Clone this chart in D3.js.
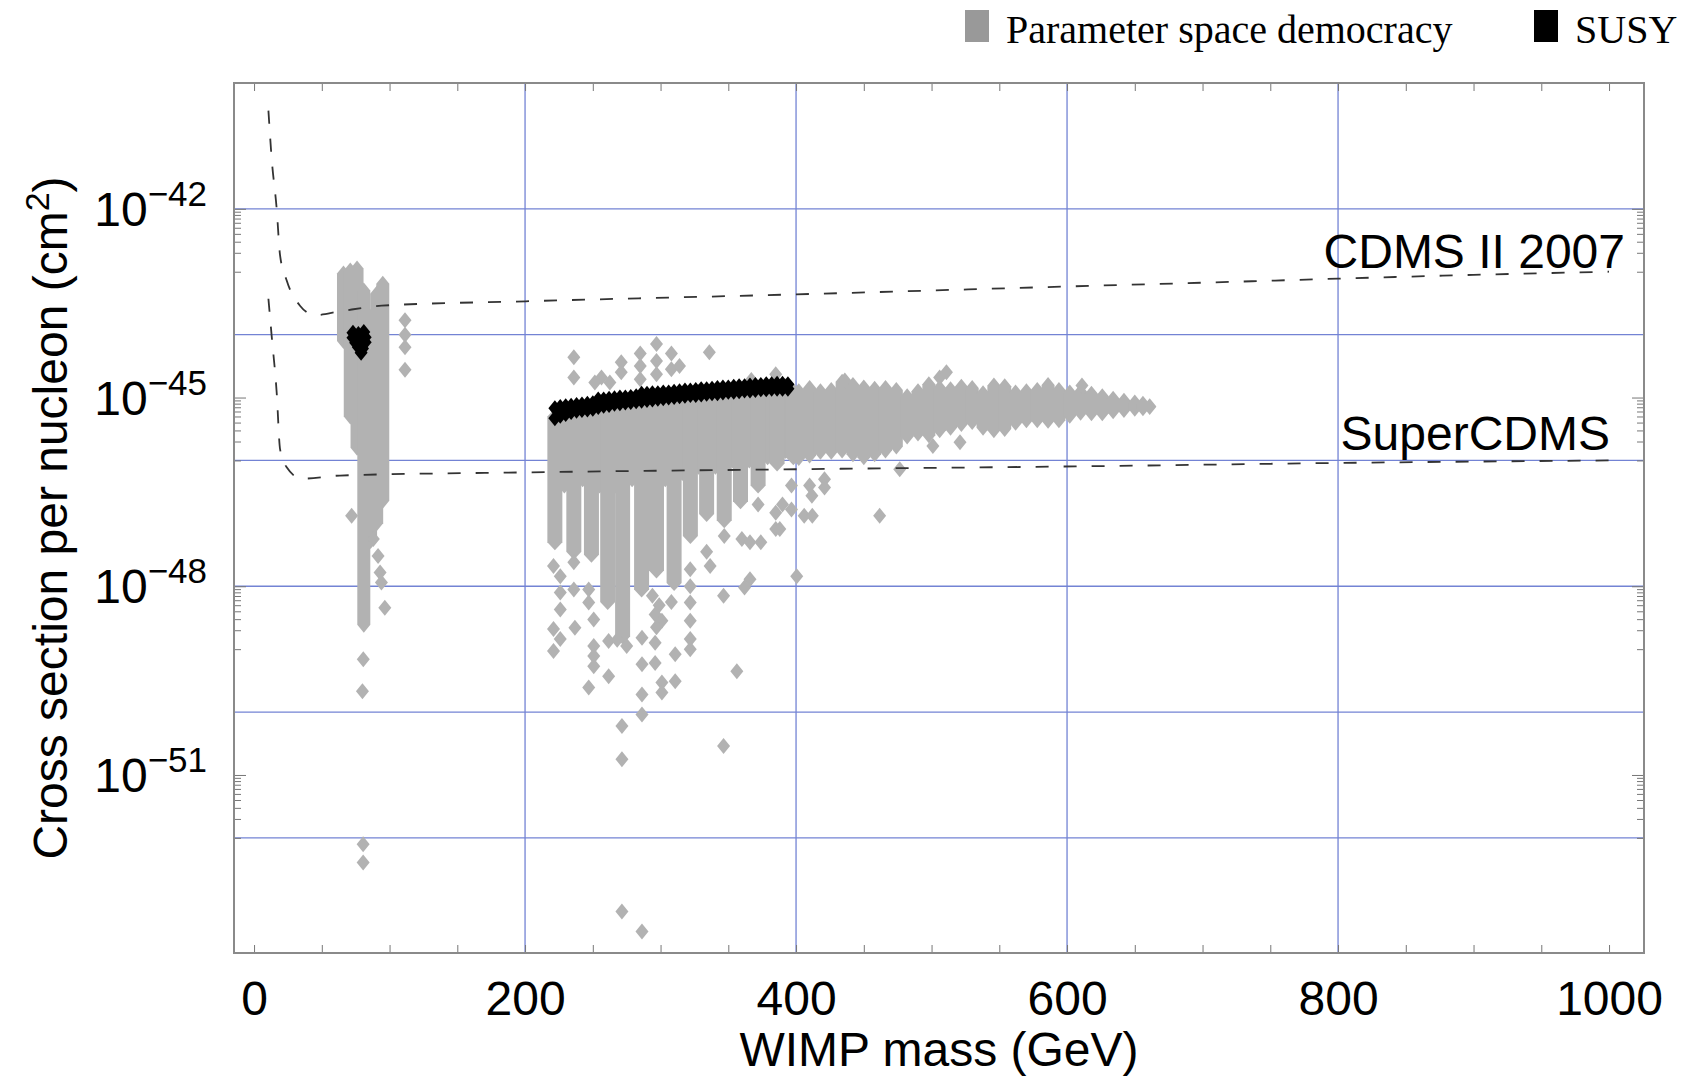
<!DOCTYPE html>
<html>
<head>
<meta charset="utf-8">
<script src="https://cdn.jsdelivr.net/npm/d3@7"></script>
<style>
  body { margin: 0; background: #fff; }
  svg { display: block; }
</style>
</head>
<body>
<svg id="vis-pane" width="1688" height="1078"></svg>
<script>

// values: mass in GeV, cross section as log10 of cm^2
var xTicks = [0, 50, 100, 150, 200, 250, 300, 350, 400, 450, 500, 550, 600, 650, 700, 750, 800, 850, 900, 950, 1000];
var xLabels = [0, 200, 400, 600, 800, 1000];
var xGrid = [200, 400, 600, 800];
var yGridExp = [-42, -44, -46, -48, -50, -52];
var yLabelExp = [-42, -45, -48, -51];
var yMinorDecades = [-43, -46, -49, -52];

var cdmsCurve = [[10.6, -40.44], [13, -41.2], [16.7, -42.0], [19.2, -42.74], [24.1, -43.14], [33.9, -43.54],
    [45, -43.69], [63.4, -43.63], [94.2, -43.54], [200.6, -43.47], [400, -43.36], [624, -43.22],
    [707, -43.17], [800, -43.11], [900, -43.05], [1000, -43.0]];
var superCurve = [[10.6, -43.43], [13, -44.02], [16.7, -44.92], [19.2, -45.82], [24.1, -46.11], [35.2, -46.29],
    [63.4, -46.24], [200.6, -46.19], [400, -46.14], [624, -46.09], [800, -46.04], [1000, -46.0]];

// dense parts of the democracy scan: [mass, top, bottom] of a stack of diamonds
var leftColumn = [[66, -43.03, -44.1], [71, -42.98, -45.3], [76, -42.95, -45.8], [81, -43.3, -48.61],
    [86, -43.72, -47.28], [90.5, -43.35, -47.0], [95, -43.19, -46.64]];
var cloudStrips = [[222, -45.3, -47.3], [236, -45.25, -47.45], [249, -45.15, -47.5], [261, -45.1, -48.25],
    [272, -45.05, -48.8], [286, -45.0, -48.05], [297, -45.0, -47.75], [310, -44.95, -47.95],
    [322, -44.92, -47.2], [334, -44.9, -46.85], [347, -44.88, -46.95], [359, -44.86, -46.65],
    [372, -44.84, -46.4], [386, -44.82, -46.05], [398, -44.9, -45.95]];
var cloudFill = [[229, -45.3, -46.4], [242.5, -45.2, -46.3], [255, -45.12, -46.4], [266.5, -45.07, -46.4],
    [279, -45.02, -46.3], [291.5, -45.0, -46.2], [303.5, -44.97, -46.3], [316, -44.94, -46.2],
    [328, -44.91, -46.1], [340.5, -44.89, -46.1], [353, -44.87, -46.0], [365.5, -44.85, -46.0],
    [379, -44.83, -45.95], [392, -44.82, -45.85]];
var tailStrips = [[402, -44.9, -45.96], [410, -44.85, -45.92], [418, -44.9, -45.86], [426, -44.88, -45.86],
    [434, -44.75, -45.84], [442, -44.8, -45.9], [450, -44.84, -45.95], [458, -44.86, -45.9],
    [466, -44.85, -45.84], [474, -44.88, -45.78], [482, -44.98, -45.62], [490, -44.9, -45.57],
    [498, -44.79, -45.6], [506, -44.85, -45.52], [514, -44.87, -45.48], [522, -44.83, -45.42],
    [530, -44.85, -45.39], [538, -44.93, -45.48], [546, -44.81, -45.52], [554, -44.82, -45.5],
    [562, -44.92, -45.4], [570, -44.9, -45.36], [578, -44.88, -45.36], [586, -44.8, -45.37],
    [594, -44.88, -45.36], [602, -44.92, -45.29], [610, -44.91, -45.24], [618, -44.94, -45.25],
    [626, -44.98, -45.25], [634, -45.02, -45.22], [642, -45.05, -45.2], [650, -45.08, -45.18],
    [656, -45.1, -45.17], [661, -45.14, -45.15]];

// single democracy points
var democracyPoints = [
    [72, -46.88], [88, -47.25], [91.5, -47.52], [93, -47.78], [94, -47.94], [96.5, -48.34],
    [80.6, -49.16], [80, -49.67], [80.5, -52.1], [80.5, -52.39],
    [111.4, -43.77], [111.4, -44.0], [111.4, -44.2], [111.4, -44.56],
    [236, -44.36], [236, -44.68], [251.5, -44.76], [256.4, -44.68], [262.6, -44.76],
    [271, -44.44], [271, -44.6], [285, -44.3], [285, -44.5], [285, -44.71],
    [297, -44.15], [297, -44.42], [297, -44.63], [308, -44.3], [308, -44.55], [314, -44.5],
    [336, -44.28], [367, -44.72], [385, -44.63],
    [221, -47.68], [226, -47.84], [226, -48.1], [226, -48.37], [221, -48.68], [226, -48.84], [221, -49.03],
    [236, -47.62], [236, -48.05], [236.8, -48.66],
    [247, -48.05], [247, -48.26], [250.7, -48.53], [250.7, -48.95], [250.7, -49.11], [250.7, -49.27], [247, -49.61],
    [261.7, -48.87], [261.7, -49.43],
    [268, -48.85], [275, -48.95], [271.5, -50.22], [271.5, -50.75], [271.5, -53.17],
    [286.3, -48.82], [286.3, -49.24], [286.3, -49.72], [286.3, -50.04], [286.3, -53.49],
    [294, -48.15], [299, -48.3], [296, -48.45], [301, -48.55], [297, -48.65], [296, -48.9], [296, -49.22],
    [301, -49.53], [301, -49.69],
    [308, -48.25], [310.8, -49.08], [310.8, -49.51],
    [321.9, -47.73], [321.9, -48.0], [321.9, -48.26], [321.9, -48.55], [321.9, -48.84], [321.9, -49.0],
    [336.6, -47.68], [334, -47.45], [347, -47.2], [346.5, -48.15], [346.5, -50.54], [356.3, -49.35],
    [360, -47.25], [366, -47.3], [366, -47.89], [362, -48.02],
    [372, -46.7], [374, -47.3], [385, -46.83], [385, -47.09], [390, -46.7], [388, -47.09],
    [396.6, -46.4], [396.6, -46.78], [400.5, -47.84],
    [406, -46.88], [412, -46.88], [410, -46.4], [411.7, -46.56], [421, -46.3], [421, -46.43],
    [461.7, -46.88], [476.5, -46.14], [501, -45.77], [521, -45.71],
    [436, -44.73], [506, -44.68], [511, -44.6], [611, -44.81]];

// SUSY points
var susyPoints = [
    [73, -43.97], [77, -43.99], [81, -43.96], [73, -44.05], [77, -44.06], [82, -44.04],
    [75, -44.13], [79, -44.14], [82, -44.12], [77, -44.2], [80, -44.22], [79, -44.29],
    [222, -45.33], [226, -45.29], [230, -45.26], [234, -45.23], [238, -45.21], [242, -45.2],
    [246, -45.19], [250, -45.18], [254, -45.15], [258, -45.13], [262, -45.12], [266, -45.1],
    [270, -45.09], [274, -45.08], [278, -45.07], [282, -45.06], [286, -45.05], [290, -45.04],
    [294, -45.03], [298, -45.02], [302, -45.01], [306, -45.0], [310, -44.99], [314, -44.98],
    [318, -44.97], [322, -44.96], [326, -44.96], [330, -44.95], [334, -44.94], [338, -44.93],
    [342, -44.93], [346, -44.92], [350, -44.91], [354, -44.91], [358, -44.9], [362, -44.89],
    [366, -44.89], [370, -44.88], [374, -44.87], [378, -44.87], [382, -44.86], [386, -44.86],
    [390, -44.86], [394, -44.86],
    [222, -45.17], [226, -45.15], [230, -45.14], [234, -45.13], [238, -45.12], [242, -45.11],
    [246, -45.1], [250, -45.09], [254, -45.03], [258, -45.03], [262, -45.02], [266, -45.01],
    [270, -45.0], [274, -45.0], [278, -44.99], [282, -44.98], [286, -44.94], [290, -44.94],
    [294, -44.93], [298, -44.93], [302, -44.92], [306, -44.92], [310, -44.91], [314, -44.9],
    [318, -44.89], [322, -44.89], [326, -44.88], [330, -44.87], [334, -44.87], [338, -44.86],
    [342, -44.85], [346, -44.84], [350, -44.84], [354, -44.83], [358, -44.82], [362, -44.82],
    [366, -44.81], [370, -44.8], [374, -44.8], [378, -44.79], [382, -44.79], [386, -44.78],
    [390, -44.78], [394, -44.79]];

var grey = "#b2b2b2";
var gridColor = "#7383d4";
var frameColor = "#8a8a8a";
var sans = "'Liberation Sans', Arial, Helvetica, sans-serif";

var svg = d3.select("#vis-pane");
var x = d3.scaleLinear().domain([-14.8, 1025.8]).range([234, 1644]);
var y = d3.scaleLog().domain([Math.pow(10, -53.83), 1e-40]).range([953, 83]);
var yy = function(e) { return y(Math.pow(10, e)); };

var diamond = "M0,-8L6.5,0L0,8L-6.5,0Z";
var stripPath = function(d, hw) {
    var cx = x(d[0]), t = yy(d[1]), b = yy(d[2]), hh = 8;
    return "M" + cx + "," + (t - hh) + "L" + (cx + hw) + "," + t + "L" + (cx + hw) + "," + b +
        "L" + cx + "," + (b + hh) + "L" + (cx - hw) + "," + b + "L" + (cx - hw) + "," + t + "Z";
};

// grid
svg.append("g").selectAll("line").data(yGridExp).enter().append("line")
    .attr("x1", 234).attr("x2", 1644)
    .attr("y1", function(d) { return yy(d); }).attr("y2", function(d) { return yy(d); })
    .attr("stroke", gridColor).attr("stroke-width", 1.3);
svg.append("g").selectAll("line").data(xGrid).enter().append("line")
    .attr("y1", 83).attr("y2", 953)
    .attr("x1", function(d) { return x(d); }).attr("x2", function(d) { return x(d); })
    .attr("stroke", gridColor).attr("stroke-width", 1.3);

// democracy scan
var scan = svg.append("g").attr("fill", grey);
scan.selectAll(".lc").data(leftColumn).enter().append("path").attr("class", "lc")
    .attr("d", function(d) { return stripPath(d, 6.5); });
scan.selectAll(".cf").data(cloudFill).enter().append("path").attr("class", "cf")
    .attr("d", function(d) { return stripPath(d, 7); });
scan.selectAll(".cs").data(cloudStrips).enter().append("path").attr("class", "cs")
    .attr("d", function(d) { return stripPath(d, 7.5); });
scan.selectAll(".ts").data(tailStrips).enter().append("path").attr("class", "ts")
    .attr("d", function(d) { return stripPath(d, 6.5); });
scan.selectAll(".pt").data(democracyPoints).enter().append("path").attr("class", "pt")
    .attr("d", diamond)
    .attr("transform", function(d) { return "translate(" + x(d[0]) + "," + yy(d[1]) + ")"; });

// limit curves
var line = d3.line()
    .x(function(d) { return x(d[0]); })
    .y(function(d) { return yy(d[1]); })
    .curve(d3.curveMonotoneX);
svg.selectAll(".limit").data([cdmsCurve, superCurve]).enter().append("path").attr("class", "limit")
    .attr("d", line)
    .attr("fill", "none").attr("stroke", "#333").attr("stroke-width", 1.8)
    .attr("stroke-dasharray", "13,15");

// SUSY
svg.append("g").selectAll("path").data(susyPoints).enter().append("path")
    .attr("d", diamond).attr("fill", "#000")
    .attr("transform", function(d) { return "translate(" + x(d[0]) + "," + yy(d[1]) + ")"; });

// frame and ticks
var noDomain = function(g) { g.select(".domain").remove(); g.selectAll("line").attr("stroke", "#777"); };
svg.append("g").attr("transform", "translate(0,953)")
    .call(d3.axisBottom(x).tickValues(xTicks).tickSize(-8).tickFormat("")).call(noDomain);
svg.append("g").attr("transform", "translate(0,83)")
    .call(d3.axisTop(x).tickValues(xTicks).tickSize(-8).tickFormat("")).call(noDomain);

var majorVals = yLabelExp.map(function(e) { return Math.pow(10, e); });
var minorVals = [];
yMinorDecades.forEach(function(e) {
    for (var k = 1; k < 10; k++) minorVals.push(k * Math.pow(10, e));
});
[[d3.axisLeft, 234], [d3.axisRight, 1644]].forEach(function(a) {
    svg.append("g").attr("transform", "translate(" + a[1] + ",0)")
        .call(a[0](y).tickValues(majorVals).tickSize(-12).tickFormat("")).call(noDomain);
    svg.append("g").attr("transform", "translate(" + a[1] + ",0)")
        .call(a[0](y).tickValues(minorVals).tickSize(-7).tickFormat("")).call(noDomain);
});

svg.append("rect").attr("x", 234).attr("y", 83).attr("width", 1410).attr("height", 870)
    .attr("fill", "none").attr("stroke", frameColor).attr("stroke-width", 2);

// tick labels
svg.append("g").attr("transform", "translate(0,953)")
    .call(d3.axisBottom(x).tickValues(xLabels).tickSize(0).tickPadding(28).tickFormat(d3.format("d")))
    .call(function(g) {
        g.select(".domain").remove();
        g.selectAll("text").attr("font-family", sans).attr("font-size", 48).attr("fill", "#000");
    });

var ylab = svg.append("g").selectAll("text").data(yLabelExp).enter().append("text")
    .attr("x", 207).attr("y", function(d) { return yy(d) + 17; })
    .attr("text-anchor", "end").attr("font-family", sans).attr("font-size", 48);
ylab.append("tspan").text("10");
ylab.append("tspan").attr("font-size", 35).attr("dy", -20).text(function(d) { return "\u2212" + (-d); });

// axis titles
svg.append("text").attr("x", 939).attr("y", 1066).attr("text-anchor", "middle")
    .attr("font-family", sans).attr("font-size", 48).text("WIMP mass (GeV)");
var yt = svg.append("text").attr("transform", "translate(67,518) rotate(-90)").attr("text-anchor", "middle")
    .attr("font-family", sans).attr("font-size", 48);
yt.append("tspan").text("Cross section per nucleon (cm");
yt.append("tspan").attr("font-size", 34).attr("dy", -18).text("2");
yt.append("tspan").attr("dy", 18).text(")");

// curve labels
svg.append("text").attr("x", 1625).attr("y", 268).attr("text-anchor", "end")
    .attr("font-family", sans).attr("font-size", 48).text("CDMS II 2007");
svg.append("text").attr("x", 1610).attr("y", 450).attr("text-anchor", "end")
    .attr("font-family", sans).attr("font-size", 48).text("SuperCDMS");

// legend
var legend = [{name: "Parameter space democracy", color: "#999999", x: 965}, {name: "SUSY", color: "#000", x: 1534}];
var lg = svg.append("g").selectAll("g").data(legend).enter().append("g");
lg.append("rect").attr("x", function(d) { return d.x; }).attr("y", 10).attr("width", 24).attr("height", 32)
    .attr("fill", function(d) { return d.color; });
lg.append("text").attr("x", function(d) { return d.x + 41; }).attr("y", 43)
    .attr("font-family", "'Liberation Serif', 'Times New Roman', serif").attr("font-size", 40)
    .text(function(d) { return d.name; });

</script>
</body>
</html>
